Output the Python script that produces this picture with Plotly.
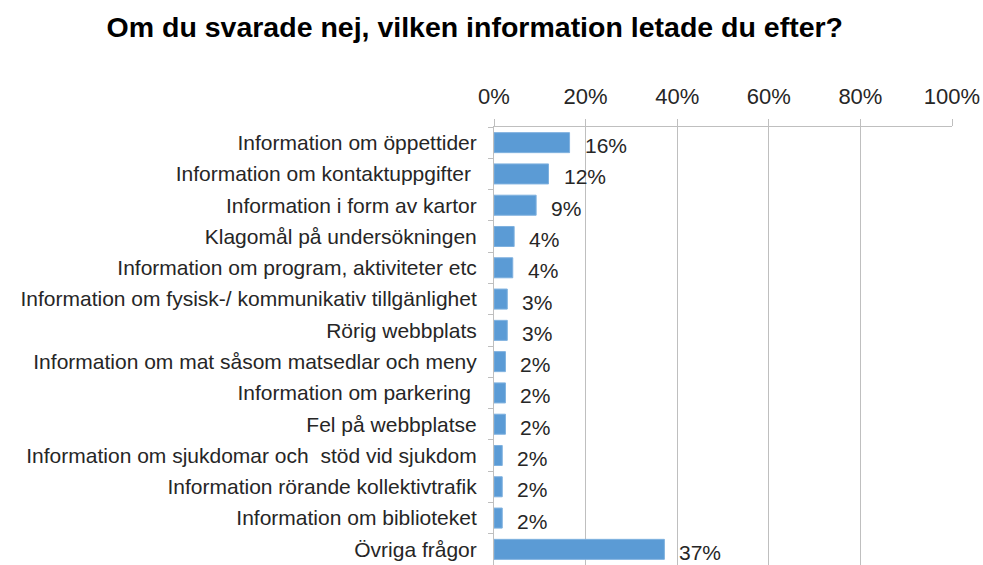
import plotly.graph_objects as go

title = "Om du svarade nej, vilken information letade du efter?"
categories = [
    "Information om öppettider",
    "Information om kontaktuppgifter\u00a0",
    "Information i form av kartor",
    "Klagomål på undersökningen",
    "Information om program, aktiviteter etc",
    "Information om fysisk-/ kommunikativ tillgänlighet",
    "Rörig webbplats",
    "Information om mat såsom matsedlar och meny",
    "Information om parkering\u00a0",
    "Fel på webbplatse",
    "Information om sjukdomar och \u00a0stöd vid sjukdom",
    "Information rörande kollektivtrafik",
    "Information om biblioteket",
    "Övriga frågor",
]
values = [0.165, 0.119, 0.092, 0.044, 0.041, 0.029, 0.029, 0.025, 0.025, 0.025, 0.018, 0.018, 0.018, 0.372]
labels = ["16%", "12%", "9%", "4%", "4%", "3%", "3%", "2%", "2%", "2%", "2%", "2%", "2%", "37%"]
tick_vals = [0, 0.2, 0.4, 0.6, 0.8, 1.0]
tick_text = ["0%", "20%", "40%", "60%", "80%", "100%"]

FONT = "Liberation Sans, Arial, sans-serif"
TXT = "#262626"
GRID = "#bfbfbf"

fig = go.Figure()
fig.add_trace(go.Bar(
    x=values, y=categories, orientation="h",
    marker=dict(color="#5b9bd5", line=dict(color="#7fb1df", width=1)),
    hoverinfo="skip",
))

for v, c, t in zip(values, categories, labels):
    fig.add_annotation(x=v, y=c, text=t, xanchor="left", yanchor="middle",
                       xshift=13, yshift=-3, showarrow=False,
                       font=dict(family=FONT, size=21, color=TXT))

fig.update_layout(
    width=983, height=565,
    margin=dict(l=494, r=31, t=127, b=0),
    paper_bgcolor="white", plot_bgcolor="white",
    showlegend=False,
    bargap=0.36,
    title=dict(text="<b>" + title + "</b>", x=0.483, xanchor="center", y=0.952, yanchor="middle",
               font=dict(family=FONT, size=28.5, color="#000000")),
    xaxis=dict(
        side="top", range=[0, 1], tickvals=tick_vals, ticktext=tick_text,
        showgrid=True, gridcolor=GRID, gridwidth=1,
        showline=True, linecolor=GRID, linewidth=1,
        ticks="outside", ticklen=7, tickcolor=GRID,
        tickfont=dict(family=FONT, size=22, color=TXT),
        ticklabelstandoff=6,
        zeroline=False, fixedrange=True,
    ),
    yaxis=dict(
        autorange=False, range=[13.5, -0.5], type="category",
        showline=True, linecolor=GRID, linewidth=1,
        ticks="outside", ticklen=5, tickcolor=GRID, tickson="boundaries",
        tickfont=dict(family=FONT, size=21, color=TXT),
        ticklabelstandoff=12,
        showgrid=False, fixedrange=True,
    ),
)

fig.write_html(
    "out.html",
    config={"displayModeBar": False},
    post_script="document.body.style.margin='0';document.body.style.overflow='hidden';",
)
